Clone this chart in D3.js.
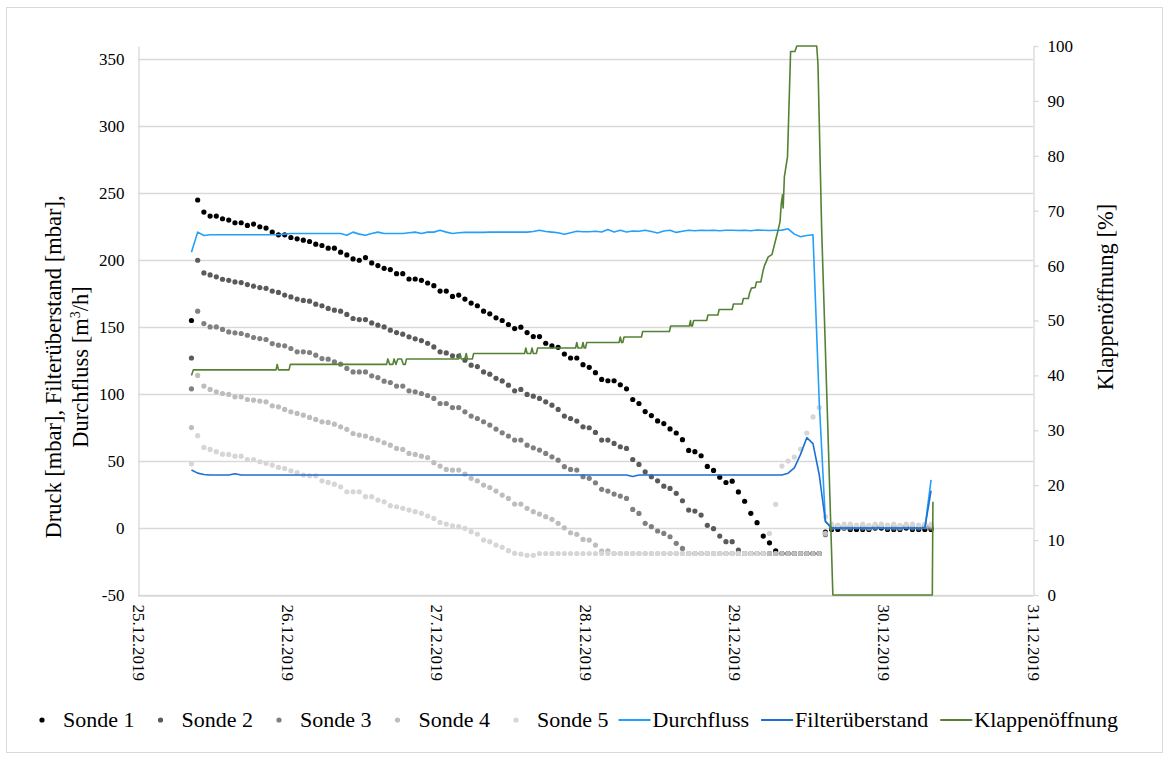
<!DOCTYPE html>
<html><head><meta charset="utf-8">
<script src="https://cdn.jsdelivr.net/npm/d3@7"></script>
<style>
body{margin:0;background:#fff;}
svg{display:block;font-family:"Liberation Serif","Times New Roman",serif;}
</style></head><body>
<svg id="c" width="1169" height="757"></svg>
<script>
// ---------- DATA ----------
const dateLabels = ["25.12.2019","26.12.2019","27.12.2019","28.12.2019","29.12.2019","30.12.2019","31.12.2019"];
const dateHours = [0,24,48,72,96,120,144];           // hours since 25.12.2019 00:00
const leftTicks = [-50,0,50,100,150,200,250,300,350];
const rightTicks = [0,10,20,30,40,50,60,70,80,90,100];
const firstHour = 8.6;                                 // first hourly reading (25.12.2019 ~08:36)
const seriesNames = ["Sonde 1","Sonde 2","Sonde 3","Sonde 4","Sonde 5","Durchfluss","Filterüberstand","Klappenöffnung"];

const sonde1 = [155,245,236,233,233,231,230,228,228,226,227,225,224,221,219,219,217,216,215,214,
 212,211,209,209,206,204,201,200,202,198,196,194,193,190,190,186,186,185,183,181,
 177,177,173,174,171,168,166,162,160,157,155,152,149,150,146,143,143,138,136,135,
 130,127,127,122,120,116,111,110,110,107,104,96,93,87,84,80,78,74,71,66,
 58,57,54,46,43,38,34,35,27,20,11,4,-6,-11,-17,-19,-19,-19,-19,-19,
 -19,-19,-3,-1,-1,0,-1,-1,-1,-1,0,0,-1,-1,-1,0,-1,-1,-1,-1];
const sonde2 = [127,200,190.5,189,187.6,185.8,185,183.8,183.3,181.8,180.6,179.6,179,177,176,174,172.6,171,170,169.4,
 167.2,166,164,162.7,162,159.5,156.5,155.7,155.7,153.2,151.5,150.2,147.8,146,144.8,142.8,141.3,140,138,135.3,
 131.6,130.8,128.6,128.4,125.4,121.6,120.6,116.6,114.9,111.8,109.9,106.7,102.5,103.5,99.8,98.5,96.8,94.3,91.8,88.6,
 83.6,81.8,79.9,75.6,74.9,71.4,65.7,65.7,63.2,60.7,59.5,51.2,47.5,42,38.3,35.3,31.3,29.6,25.9,20.4,
 13.4,12.7,9.7,2,-0.5,-6,-10.2,-10.2,-16.4,-19,-19,-19,-19,-19,-19,-19,-19,-19,-19,-19,
 -19,-19,-4,0,1,0,0,1,0,0,0,1,0,0,0,1,0,0,1,0];
const sonde3 = [104,162,152.7,150.2,150.2,148.3,146.5,145.8,145.3,144,142.3,141.5,140.8,137.8,136.6,136.1,134.1,131.6,131.6,131.1,
 129.1,126.6,126.1,124.1,122.4,119.2,116.6,116.6,116.6,113.7,112.4,109.7,108.7,106,106,102.5,101.7,100.5,99,96.8,
 93,93,90,90,86.8,83.6,81.8,79.4,76.9,73.9,71.1,68.7,65.7,65.7,61.9,59.9,58.2,55.7,53.2,50.7,
 45.8,43.8,43.3,38.3,37.1,33.8,28.9,27.6,25.4,23.9,22.1,13.9,10.9,3.5,1,-2.2,-4,-6.5,-11.4,-15.2,
 -19,-19,-19,-19,-19,-19,-19,-19,-19,-19,-19,-19,-19,-19,-19,-19,-19,-19,-19,-19,
 -19,-19,-5,1,1,0,1,1,1,0,1,1,1,1,0,1,1,1,1,1];
const sonde4 = [75,114,106,103.5,101.7,100.5,99.8,98,98,96,95.5,94.8,94.3,91.3,90.5,88.6,86.8,85.6,84.3,82.6,
 81.1,79.3,78.9,77.6,75.6,73.7,70.6,69.4,68.7,66.9,65.7,63.7,61.9,59.5,58.7,55.7,55,53.7,52.7,48.8,
 46.3,43.8,43.3,43.3,40.3,37.1,35.3,32.1,30.3,27.6,24.6,22.1,17.9,17.9,14.7,12.2,10.4,8.5,6.5,3.5,
 0.2,-3.5,-4.7,-8.5,-9,-12.7,-17.2,-17,-19,-19,-19,-19,-19,-19,-19,-19,-19,-19,-19,-19,
 -19,-19,-19,-19,-19,-19,-19,-19,-19,-19,-19,-19,-19,-19,-19,-19,-19,-19,-19,-19,
 -19,-19,-4,2,2,1,2,2,2,1,2,2,2,2,1,2,2,2,2,2];
const sonde5 = [48,69,60.2,58.7,57,55.2,55,53.7,53.7,51.2,51.2,49.5,48.3,47,45.3,44.5,42.8,41.5,39.6,39,
 39,35.3,34.1,32.8,30.8,27.1,27.1,27.1,23.4,23.4,20.9,19.6,16.7,15.9,14.7,13.4,12.2,11,9,7.2,
 4.2,3,1.7,1,-0.2,-2.7,-4.5,-9,-10.2,-12.7,-14.4,-16.9,-18.9,-19.4,-20.4,-20.4,-19,-19,-19,-19,
 -19,-19,-19,-19,-19,-19,-19,-19,-19,-19,-19,-19,-19,-19,-19,-19,-19,-19,-19,-19,
 -19,-19,-19,-19,-19,-19,-19,-19,-19,-19,-19,-19,-19,-4,17.7,46.3,50,53,59,71,
 83,90,8.5,3,2,3,3,2,3,2,3,3,2,3,2,3,3,2,3,3];
const durchfluss = [206,221,218.5,219,219,219,219,219,219,219,219,219,219,219,219,219.5,220,220,220,220,
 220,220,220,220,220,218.7,221,219.5,218.7,220,221,220,220,220,220,220.5,221,220,221,221,
 222.4,221,220,220.5,220.8,220.8,220.8,220.8,221,221,221,221,221,221,221,221.5,222.4,221.5,221,220.5,
 219.4,220.5,221.6,221.3,221.3,221.6,221.1,222.9,221.1,222.4,221.1,221.8,221.6,222.4,221.5,220.4,221.8,222.4,220.8,221.6,
 222.4,222,222.4,222.2,222.4,222,222.4,222.4,222.2,222.4,222,222.6,222.4,222.2,222.4,222.5,223.5,219.5,217.5,218.5,
 219,95,5,-0.2,-0.2,-0.2,-0.2,-0.2,-0.2,-0.2,-0.2,-0.2,-0.2,-0.2,-0.2,-0.2,-0.2,-0.2,-0.2,36];
const filterueberstand = [43.3,41,40,39.6,39.6,39.6,39.6,40.6,39.6,39.6,39.6,39.6,39.6,39.6,39.6,39.6,39.6,39.6,39.6,39.6,
 39.6,39.6,39.6,39.6,39.6,39.6,39.6,39.6,39.6,39.6,39.6,39.6,39.6,39.6,39.6,39.6,39.6,39.6,39.6,39.6,
 39.6,39.6,39.6,39.6,39.6,39.6,39.6,39.6,39.6,39.6,39.6,39.6,39.6,39.6,39.6,39.6,39.6,39.6,39.6,39.6,
 39.6,39.6,39.6,39.6,39.6,39.6,39.6,39.6,39.6,39.6,39.6,38.5,39.6,39.6,39.6,39.6,39.6,39.6,39.6,39.6,
 39.6,39.6,39.6,39.6,39.6,39.6,39.6,39.6,39.6,39.6,39.6,39.6,39.6,39.6,39.6,39.6,41,45,55,67.5,
 63,40,5,0,0,0,0,0,0,0,0,0,0,0,0,0,0,0,0,28];
const klappeHours = [8.6,8.9,22.2,22.4,22.6,24.3,24.5,40.0,40.2,40.5,41.0,41.2,41.5,41.8,42.4,42.7,43.0,43.2,51.6,51.8,
 52.0,52.6,52.8,53.0,53.8,54.0,62.2,62.4,62.6,63.2,63.4,63.6,64.1,64.3,70.4,70.6,70.8,71.4,71.6,71.8,
 72.0,72.2,77.4,77.6,77.8,78.0,78.2,81.0,81.2,85.5,85.7,88.7,88.9,89.0,89.2,89.4,91.5,91.7,93.3,93.5,
 95.6,95.8,97.2,97.4,98.2,98.4,98.7,99.3,99.5,100.2,100.6,100.8,101.4,102.0,102.6,103.0,103.3,103.5,103.7,103.8,
 104.0,104.5,105.0,105.7,106.0,109.2,109.4,110.0,111.0,111.8,127.8,127.9];
const klappeValues = [40,41,41,42,41,41,42,42,43,42,42,43,42,43,43,42,42,43,43,44,
 43,43,44,43,43,44,44,45,44,44,45,44,44,45,45,46,45,45,46,45,
 45,46,46,47,46,46,47,47,48,48,49,49,50,49,49,50,50,51,51,52,
 52,53,53,54,54,55,55.9,56,57,57,59.2,60,61.6,62,64.7,66.5,68,71.3,72.9,70.5,
 76.2,79.8,99,99,100,100,96.8,66.5,30,0,0,17];

// ---------- STYLE ----------
const sondeColors = ["#000000","#5a5a5a","#808080","#bdbdbd","#d6d6d6"];
const lineColors = ["#22a0fb","#1d6fd2","#548235"];
const gridColor = "#d9d9d9";
const serif = "'Liberation Serif','Times New Roman',serif";

const svg = d3.select("#c");
const L = 138, R = 1033, T = 46, B = 595;

svg.append("rect").attr("x",6.5).attr("y",7.5).attr("width",1156).attr("height",745)
  .attr("fill","#fff").attr("stroke",gridColor).attr("stroke-width",1);

const x = d3.scaleLinear().domain([0,144]).range([L,R]);
const yL = d3.scaleLinear().domain([-50,360]).range([B,T]);
const yR = d3.scaleLinear().domain([0,100]).range([B,T]);

// gridlines
svg.append("g").selectAll("line").data(leftTicks).join("line")
  .attr("x1",L).attr("x2",R)
  .attr("y1",d=>Math.round(yL(d))+0.5).attr("y2",d=>Math.round(yL(d))+0.5)
  .attr("stroke",gridColor).attr("stroke-width",1.3);

// left axis
const gL = svg.append("g").attr("transform",`translate(${L+0.5},0)`)
  .call(d3.axisLeft(yL).tickValues(leftTicks).tickFormat(d=>String(d)).tickSize(0).tickPadding(14));
gL.attr("font-family",serif);
gL.select(".domain").attr("stroke",gridColor).attr("stroke-width",1.3);
gL.selectAll("text").attr("font-family",serif).attr("font-size",17).attr("fill","#000");

// right axis
const gR = svg.append("g").attr("transform",`translate(${R+0.5},0)`)
  .call(d3.axisRight(yR).tickValues(rightTicks).tickFormat(d=>String(d)).tickSizeInner(5).tickSizeOuter(0).tickPadding(9));
gR.attr("font-family",serif);
gR.select(".domain").attr("stroke",gridColor).attr("stroke-width",1.3);
gR.selectAll(".tick line").attr("stroke",gridColor).attr("stroke-width",1.3);
gR.selectAll("text").attr("font-family",serif).attr("font-size",17).attr("fill","#000");

// bottom axis
const gB = svg.append("g").attr("transform",`translate(0,${B+0.5})`)
  .call(d3.axisBottom(x).tickValues(dateHours).tickFormat((d,i)=>dateLabels[i]).tickSize(0));
gB.attr("font-family",serif);
gB.select(".domain").attr("stroke",gridColor).attr("stroke-width",1.3);
gB.selectAll("text").attr("font-family",serif).attr("font-size",17).attr("fill","#000")
  .attr("transform","rotate(90)").attr("x",9).attr("y",0).attr("dy","0.35em").attr("text-anchor","start");

// axis titles
svg.append("text").attr("transform","translate(61,367) rotate(-90)").attr("text-anchor","middle")
  .attr("font-family",serif).attr("font-size",22.5).text("Druck [mbar], Filterüberstand [mbar],");
const t2 = svg.append("text").attr("transform","translate(88,367) rotate(-90)").attr("text-anchor","middle")
  .attr("font-family",serif).attr("font-size",22.5);
t2.append("tspan").text("Durchfluss [m");
t2.append("tspan").attr("font-size",14).attr("dy",-8).text("3");
t2.append("tspan").attr("dy",8).text("/h]");
svg.append("text").attr("transform","translate(1113,297) rotate(-90)").attr("text-anchor","middle")
  .attr("font-family",serif).attr("font-size",22.5).text("Klappenöffnung [%]");

// ---------- MARKS ----------
const hours = d3.range(sonde1.length).map(i => firstHour + i);
const sondes = [sonde1,sonde2,sonde3,sonde4,sonde5];
sondes.forEach((arr,k)=>{
  svg.append("g").selectAll("circle").data(arr).join("circle")
    .attr("cx",(d,i)=>x(hours[i])).attr("cy",d=>yL(d)).attr("r",2.6)
    .attr("fill",sondeColors[k]);
});

const lineL = d3.line().x((d,i)=>x(hours[i])).y(d=>yL(d));
svg.append("path").datum(durchfluss).attr("d",lineL).attr("fill","none")
  .attr("stroke",lineColors[0]).attr("stroke-width",1.6).attr("stroke-linejoin","round");
svg.append("path").datum(filterueberstand).attr("d",lineL).attr("fill","none")
  .attr("stroke",lineColors[1]).attr("stroke-width",1.6).attr("stroke-linejoin","round");
const lineR = d3.line().x((d,i)=>x(klappeHours[i])).y(d=>yR(d));
svg.append("path").datum(klappeValues).attr("d",lineR).attr("fill","none")
  .attr("stroke",lineColors[2]).attr("stroke-width",1.6).attr("stroke-linejoin","round");

// ---------- LEGEND ----------
const legY = 720;
let cx = 26;
const lg = svg.append("g").attr("font-family",serif);
seriesNames.forEach((name,k)=>{
  if (k < 5) {
    lg.append("circle").attr("cx",cx+16).attr("cy",legY).attr("r",2.6).attr("fill",sondeColors[k]);
    const t = lg.append("text").attr("x",cx+37).attr("y",legY+7).attr("font-size",22).text(name);
    cx = cx + 37 + t.node().getComputedTextLength() + 10;
  } else {
    lg.append("line").attr("x1",cx).attr("x2",cx+32).attr("y1",legY).attr("y2",legY)
      .attr("stroke",lineColors[k-5]).attr("stroke-width",2);
    const t = lg.append("text").attr("x",cx+34).attr("y",legY+7).attr("font-size",22).text(name);
    cx = cx + 34 + t.node().getComputedTextLength() + 12;
  }
});
</script>
</body></html>
